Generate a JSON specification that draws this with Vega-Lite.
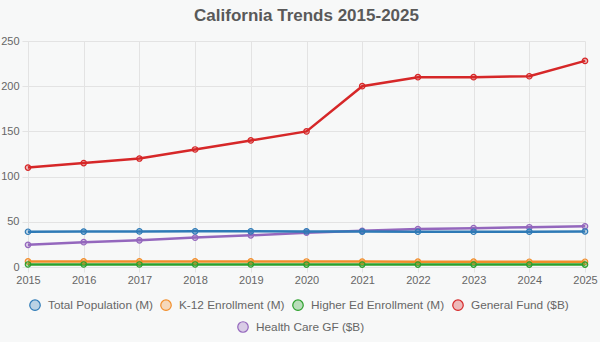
{
  "$schema": "https://vega.github.io/schema/vega-lite/v6.json",
  "width": 557,
  "height": 226,
  "autosize": {"type": "none"},
  "padding": {"left": 28, "top": 41, "right": 15, "bottom": 75},
  "background": "#f7f8f8",
  "title": {"text": "California Trends 2015-2025", "fontSize": 17, "font": "Liberation Sans", "fontWeight": "bold", "color": "#595959", "offset": 10, "anchor": "middle"},
  "config": {
    "view": {"stroke": null},
    "axis": {"labelFont": "Liberation Sans", "labelFontSize": 11, "labelColor": "#666", "gridColor": "#e3e3e3", "domainColor": "#e3e3e3", "tickColor": "#e3e3e3", "title": null},
    "legend": {"labelFont": "Liberation Sans", "labelFontSize": 11.8, "labelColor": "#666", "symbolType": "circle", "symbolSize": 110, "symbolStrokeWidth": 1.2, "columnPadding": 5, "labelOffset": 7, "title": null}
  },
  "data": {"values": [
    {"year": "2015", "series": "Total Population (M)", "value": 39.0},
    {"year": "2016", "series": "Total Population (M)", "value": 39.2},
    {"year": "2017", "series": "Total Population (M)", "value": 39.4},
    {"year": "2018", "series": "Total Population (M)", "value": 39.5},
    {"year": "2019", "series": "Total Population (M)", "value": 39.5},
    {"year": "2020", "series": "Total Population (M)", "value": 39.4},
    {"year": "2021", "series": "Total Population (M)", "value": 39.2},
    {"year": "2022", "series": "Total Population (M)", "value": 39.0},
    {"year": "2023", "series": "Total Population (M)", "value": 39.0},
    {"year": "2024", "series": "Total Population (M)", "value": 39.1},
    {"year": "2025", "series": "Total Population (M)", "value": 39.3},
    {"year": "2015", "series": "K-12 Enrollment (M)", "value": 6.2},
    {"year": "2016", "series": "K-12 Enrollment (M)", "value": 6.2},
    {"year": "2017", "series": "K-12 Enrollment (M)", "value": 6.2},
    {"year": "2018", "series": "K-12 Enrollment (M)", "value": 6.2},
    {"year": "2019", "series": "K-12 Enrollment (M)", "value": 6.2},
    {"year": "2020", "series": "K-12 Enrollment (M)", "value": 6.1},
    {"year": "2021", "series": "K-12 Enrollment (M)", "value": 6.0},
    {"year": "2022", "series": "K-12 Enrollment (M)", "value": 5.9},
    {"year": "2023", "series": "K-12 Enrollment (M)", "value": 5.9},
    {"year": "2024", "series": "K-12 Enrollment (M)", "value": 5.8},
    {"year": "2025", "series": "K-12 Enrollment (M)", "value": 5.8},
    {"year": "2015", "series": "Higher Ed Enrollment (M)", "value": 2.8},
    {"year": "2016", "series": "Higher Ed Enrollment (M)", "value": 2.8},
    {"year": "2017", "series": "Higher Ed Enrollment (M)", "value": 2.8},
    {"year": "2018", "series": "Higher Ed Enrollment (M)", "value": 2.8},
    {"year": "2019", "series": "Higher Ed Enrollment (M)", "value": 2.8},
    {"year": "2020", "series": "Higher Ed Enrollment (M)", "value": 2.7},
    {"year": "2021", "series": "Higher Ed Enrollment (M)", "value": 2.7},
    {"year": "2022", "series": "Higher Ed Enrollment (M)", "value": 2.7},
    {"year": "2023", "series": "Higher Ed Enrollment (M)", "value": 2.7},
    {"year": "2024", "series": "Higher Ed Enrollment (M)", "value": 2.7},
    {"year": "2025", "series": "Higher Ed Enrollment (M)", "value": 2.7},
    {"year": "2015", "series": "General Fund ($B)", "value": 110},
    {"year": "2016", "series": "General Fund ($B)", "value": 115},
    {"year": "2017", "series": "General Fund ($B)", "value": 120},
    {"year": "2018", "series": "General Fund ($B)", "value": 130},
    {"year": "2019", "series": "General Fund ($B)", "value": 140},
    {"year": "2020", "series": "General Fund ($B)", "value": 150},
    {"year": "2021", "series": "General Fund ($B)", "value": 200},
    {"year": "2022", "series": "General Fund ($B)", "value": 210},
    {"year": "2023", "series": "General Fund ($B)", "value": 210},
    {"year": "2024", "series": "General Fund ($B)", "value": 211},
    {"year": "2025", "series": "General Fund ($B)", "value": 228},
    {"year": "2015", "series": "Health Care GF ($B)", "value": 24.5},
    {"year": "2016", "series": "Health Care GF ($B)", "value": 27.5},
    {"year": "2017", "series": "Health Care GF ($B)", "value": 29.5},
    {"year": "2018", "series": "Health Care GF ($B)", "value": 32.5},
    {"year": "2019", "series": "Health Care GF ($B)", "value": 35},
    {"year": "2020", "series": "Health Care GF ($B)", "value": 38},
    {"year": "2021", "series": "Health Care GF ($B)", "value": 40},
    {"year": "2022", "series": "Health Care GF ($B)", "value": 42},
    {"year": "2023", "series": "Health Care GF ($B)", "value": 43},
    {"year": "2024", "series": "Health Care GF ($B)", "value": 44},
    {"year": "2025", "series": "Health Care GF ($B)", "value": 45}
  ]},
  "encoding": {
    "x": {"field": "year", "type": "ordinal", "scale": {"type": "point", "padding": 0}, "axis": {"labelAngle": 0, "grid": true, "tickSize": 5, "labelPadding": 2}},
    "y": {"field": "value", "type": "quantitative", "scale": {"domain": [0, 250], "nice": false}, "axis": {"values": [0, 50, 100, 150, 200, 250], "grid": true, "tickSize": 6, "labelPadding": 3}}
  },
  "layer": [
    {
      "transform": [{"filter": "datum.series === 'Health Care GF ($B)'"}],
      "layer": [
        {"mark": {"type": "line", "strokeWidth": 2.5}, "encoding": {"color": {"field": "series", "type": "nominal", "scale": {"domain": ["Health Care GF ($B)"], "range": ["#9467bd"]}, "legend": {"orient": "none", "legendX": 209, "legendY": 280, "direction": "horizontal", "encode": {"symbols": {"update": {"fillOpacity": {"value": 0.3}}}}}}}},
        {"mark": {"type": "point", "filled": true, "size": 30, "fillOpacity": 0.3, "strokeWidth": 1.2, "strokeOpacity": 1}, "encoding": {"color": {"field": "series", "type": "nominal"}, "stroke": {"field": "series", "type": "nominal", "scale": {"domain": ["Health Care GF ($B)"], "range": ["#9467bd"]}, "legend": null}}}
      ]
    },
    {
      "transform": [{"filter": "datum.series !== 'Health Care GF ($B)'"}],
      "layer": [
        {"mark": {"type": "line", "strokeWidth": 2.5}, "encoding": {"color": {"field": "series", "type": "nominal", "scale": {"domain": ["Total Population (M)", "K-12 Enrollment (M)", "Higher Ed Enrollment (M)", "General Fund ($B)"], "range": ["#2e7ab6", "#f28e2b", "#2ca02c", "#d62728"]}, "legend": {"orient": "none", "legendX": 1, "legendY": 258, "direction": "horizontal", "encode": {"symbols": {"update": {"fillOpacity": {"value": 0.3}}}}}}}},
        {"mark": {"type": "point", "filled": true, "size": 30, "fillOpacity": 0.3, "strokeWidth": 1.2, "strokeOpacity": 1}, "encoding": {"color": {"field": "series", "type": "nominal"}, "stroke": {"field": "series", "type": "nominal", "scale": {"domain": ["Total Population (M)", "K-12 Enrollment (M)", "Higher Ed Enrollment (M)", "General Fund ($B)"], "range": ["#2e7ab6", "#f28e2b", "#2ca02c", "#d62728"]}, "legend": null}}}
      ]
    }
  ],
  "resolve": {"scale": {"color": "independent", "stroke": "independent"}}
}
